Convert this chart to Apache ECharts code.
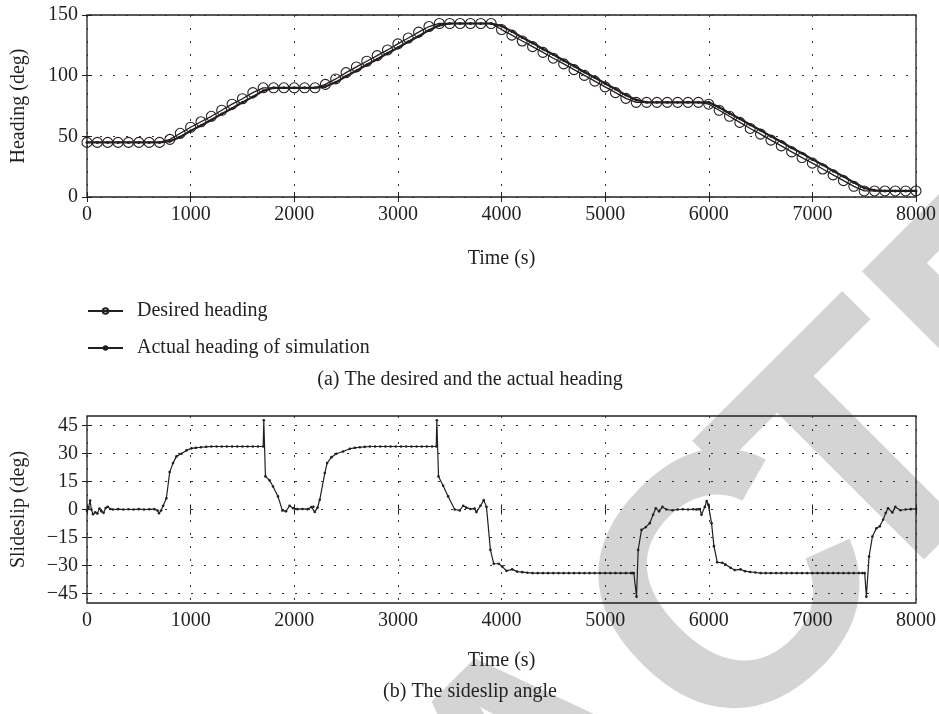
<!DOCTYPE html>
<html>
<head>
<meta charset="utf-8">
<script src="https://cdn.jsdelivr.net/npm/echarts@6/dist/echarts.min.js"></script>
<style>html,body{margin:0;padding:0;background:#fff}#chart{width:939px;height:714px}</style>
</head>
<body>
<div id="chart"></div>
<script>
// ---------- data ----------
var headingTime = [0,100,200,300,400,500,600,700,800,900,1000,1100,1200,1300,1400,1500,1600,1700,1800,1900,2000,2100,2200,2300,2400,2500,2600,2700,2800,2900,3000,3100,3200,3300,3400,3500,3600,3700,3800,3900,4000,4100,4200,4300,4400,4500,4600,4700,4800,4900,5000,5100,5200,5300,5400,5500,5600,5700,5800,5900,6000,6100,6200,6300,6400,6500,6600,6700,6800,6900,7000,7100,7200,7300,7400,7500,7600,7700,7800,7900,8000];
var desiredHeading = [45,45,45,45,45,45,45,45,47.5,52.5,57.5,62,66.5,71.5,76.5,81,86,90,90,90,90,90,90,92.8,97.3,102.5,107.2,111.9,116.5,121.2,126.2,131,135.9,140.5,143,143,143,143,143,143,138,133.4,128.6,123.9,119.2,114.4,109.7,105,100.2,95.5,90.8,86,81.3,78,78,78,78,78,78,78,76.5,71.5,66.5,61.5,56.5,51.8,46.9,42.1,37.2,32.5,27.9,23.1,18.2,13.5,8.8,5,5,5,5,5,5];
var actualHeading = [45,45,45,45,45,45,45,45,46,49.5,54.5,59,63.5,68.5,73,78,82.5,87.5,90,90,90,90,90,91,94.5,99.5,104,109,113.5,118.5,123,128,132.5,137.5,141.5,143,143,143,143,143,141,136.5,131.5,127,122,117.5,112.5,108,103,98.5,93.5,89,84,80,78,78,78,78,78,78,78,74,69,64.5,59.5,55,50,45.5,40.5,36,31,26.5,21.5,17,12,7.5,5.5,5,5,5,5];

var slipTime = [0,15,30,42,58,80,100,120,140,160,180,200,225,250,300,350,400,450,500,550,600,650,680,695,715,735,766,798,830,863,911,959,1008,1050,1100,1150,1200,1250,1300,1350,1400,1450,1500,1550,1600,1650,1700,1706,1722,1763,1795,1843,1885,1920,1955,1990,2030,2080,2130,2166,2185,2198,2225,2246,2295,2317,2359,2407,2471,2536,2585,2632,2680,2730,2780,2830,2880,2930,2980,3030,3080,3130,3180,3230,3280,3330,3370,3376,3392,3437,3485,3549,3597,3630,3660,3700,3740,3758,3797,3829,3855,3893,3925,3974,4006,4048,4103,4151,4200,4250,4300,4350,4400,4450,4500,4550,4600,4650,4700,4750,4800,4850,4900,4950,5000,5050,5100,5150,5200,5250,5264,5277,5303,5319,5351,5393,5431,5463,5489,5521,5553,5592,5650,5700,5750,5800,5850,5880,5898,5914,5930,5962,5980,5995,6027,6050,6082,6130,6162,6211,6250,6307,6350,6400,6450,6500,6550,6600,6650,6700,6750,6800,6850,6900,6950,7000,7050,7100,7150,7200,7250,7300,7350,7400,7450,7483,7505,7521,7547,7579,7618,7650,7682,7708,7730,7772,7800,7850,7900,7950,8000];
var slipValue = [-0.7,1,4.8,0,-2.5,-1.5,-2.2,0.5,-1,-1.8,0.8,1.5,0.3,0,0.2,0,0.1,0,0.2,0,0.1,0.2,-0.5,-2,-0.5,2,6,20,24.8,28.4,29.8,31.6,32.7,33,33.3,33.5,33.7,33.7,33.7,33.7,33.7,33.7,33.7,33.7,33.7,33.7,33.7,47.7,17.7,15.5,12.3,7,-0.5,-1,2,0.7,0.2,0.3,0.2,1.3,1.5,-1.3,1,5.2,19.5,24.8,28,29.8,31,32.5,33,33.3,33.5,33.7,33.7,33.7,33.7,33.7,33.7,33.7,33.7,33.7,33.7,33.7,33.7,33.7,33.7,47.7,17.7,12.7,7,0,-0.5,2,1,0.3,0.5,-1.4,2,5,1.4,-21.6,-29,-29,-30.5,-32.8,-32,-33.2,-33.5,-33.8,-34,-34,-34,-34,-34,-34,-34,-34,-34,-34,-34,-34,-34,-34,-34,-34,-34,-34,-34,-34,-34,-34,-46.6,-21.6,-10.9,-9.4,-7.3,-2.8,0.7,-1,1.4,0,-0.4,0,0.1,0,0.1,0,0.1,0.3,-2.8,1.4,4.5,2.6,-7.3,-19.6,-28.2,-28.5,-29.4,-31.2,-32.4,-32,-33,-33.4,-33.7,-34,-34,-34,-34,-34,-34,-34,-34,-34,-34,-34,-34,-34,-34,-34,-34,-34,-34,-34,-34,-34,-34,-46.6,-25.2,-14.5,-10,-9,-5.5,-1.9,0.7,-1.6,1.4,-0.4,0,0.2,0.3,0.7];

var slipTicks = [-45,-30,-15,0,15,30,45];

// ---------- chart ----------
var SERIF = '"Liberation Serif","DejaVu Serif",serif';
var INK = '#231f20';
var DOT = [2, 11];

function zip(a, b) { return a.map(function (v, i) { return [v, b[i]]; }); }
function plain(v) { return v < 0 ? '\u2212' + (-v) : String(v); }

var chart = echarts.init(document.getElementById('chart'), null, {renderer: 'canvas'});

var labelStyle = {color: INK, fontFamily: SERIF, fontSize: 20};
var tick = {show: true, inside: true, length: 5, lineStyle: {color: INK}};
var grid = {show: true, lineStyle: {type: DOT, color: '#333', width: 1}};
var WM_FONT = 'bold 360px "Liberation Sans"';

var option = {
  animation: false,
  backgroundColor: '#fff',
  grid: [
    {left: 87, top: 15, width: 829, height: 182, show: true, borderColor: INK, borderWidth: 1.3, backgroundColor: 'transparent'},
    {left: 87, top: 416, width: 829, height: 187, show: true, borderColor: INK, borderWidth: 1.3, backgroundColor: 'transparent'}
  ],
  xAxis: [
    {type: 'value', gridIndex: 0, min: 0, max: 8000, interval: 1000,
     axisLine: {show: false}, axisTick: tick,
     axisLabel: Object.assign({margin: 8, formatter: plain}, labelStyle),
     splitLine: grid,
     name: 'Time (s)', nameLocation: 'middle', nameGap: 52, nameTextStyle: labelStyle},
    {type: 'value', gridIndex: 0, position: 'top', min: 0, max: 8000, interval: 1000,
     axisLine: {show: false}, axisTick: tick, axisLabel: {show: false}, splitLine: {show: false}},
    {type: 'value', gridIndex: 1, min: 0, max: 8000, interval: 1000,
     axisLine: {show: false}, axisTick: tick,
     axisLabel: Object.assign({margin: 8, formatter: plain}, labelStyle),
     splitLine: grid,
     name: 'Time (s)', nameLocation: 'middle', nameGap: 48, nameTextStyle: labelStyle},
    {type: 'value', gridIndex: 1, position: 'top', min: 0, max: 8000, interval: 1000,
     axisLine: {show: false}, axisTick: tick, axisLabel: {show: false}, splitLine: {show: false}}
  ],
  yAxis: [
    {type: 'value', gridIndex: 0, min: 0, max: 150, interval: 50,
     axisLine: {show: false}, axisTick: tick,
     axisLabel: Object.assign({margin: 9, formatter: plain}, labelStyle),
     splitLine: grid,
     name: 'Heading (deg)', nameLocation: 'middle', nameGap: 58, nameTextStyle: labelStyle},
    {type: 'value', gridIndex: 0, position: 'right', min: 0, max: 150, interval: 50,
     axisLine: {show: false}, axisTick: tick, axisLabel: {show: false}, splitLine: {show: false}},
    {type: 'value', gridIndex: 1, min: -50, max: 50,
     axisLine: {show: false},
     axisTick: Object.assign({customValues: slipTicks}, tick),
     axisLabel: Object.assign({margin: 9, customValues: slipTicks, formatter: plain}, labelStyle),
     splitLine: {show: false},
     name: 'Slideslip (deg)', nameLocation: 'middle', nameGap: 58, nameTextStyle: labelStyle},
    {type: 'value', gridIndex: 1, position: 'right', min: -50, max: 50,
     axisLine: {show: false},
     axisTick: Object.assign({customValues: slipTicks}, tick),
     axisLabel: {show: false}, splitLine: {show: false}}
  ],
  legend: {
    orient: 'vertical', left: 87, top: 301, padding: 0, itemWidth: 35, itemHeight: 7, itemGap: 17,
    textStyle: {color: INK, fontFamily: SERIF, fontSize: 20, padding: [0, 0, 0, 9]},
    data: ['Desired heading', 'Actual heading of simulation']
  },
  series: [
    {name: 'Desired heading', type: 'line', xAxisIndex: 0, yAxisIndex: 0,
     data: zip(headingTime, desiredHeading), symbol: 'circle', symbolSize: 10, showSymbol: true,
     lineStyle: {color: INK, width: 1.3}, itemStyle: {color: 'rgba(255,255,255,0)', borderColor: INK, borderWidth: 1.1},
     z: 3},
    {name: 'Actual heading of simulation', type: 'line', xAxisIndex: 0, yAxisIndex: 0,
     data: zip(headingTime, actualHeading), symbol: 'circle', symbolSize: 3, showSymbol: true,
     lineStyle: {color: INK, width: 2.2}, itemStyle: {color: INK}, z: 4},
    {name: 'Sideslip', type: 'line', xAxisIndex: 2, yAxisIndex: 2,
     data: zip(slipTime, slipValue), symbol: 'circle', symbolSize: 2.6, showSymbol: true,
     lineStyle: {color: INK, width: 1.2}, itemStyle: {color: INK}, z: 4,
     markLine: {silent: true, symbol: 'none', label: {show: false}, animation: false,
       lineStyle: {type: DOT, color: '#333', width: 1},
       data: slipTicks.map(function (v) { return {yAxis: v}; })}}
  ],
  graphic: [
    {type: 'text', z: -10, x: 742, y: 601, rotation: Math.PI / 4, silent: true,
     style: {text: 'RETRAC', x: -1370, y: 0, fill: '#d4d4d4', font: WM_FONT,
             textAlign: 'left', textVerticalAlign: 'middle', align: 'left', verticalAlign: 'middle'}},
    {type: 'text', z: -10, x: 742, y: 601, rotation: Math.PI / 4, silent: true,
     style: {text: 'TED', x: 74, y: 0, fill: '#d4d4d4', font: WM_FONT,
             textAlign: 'left', textVerticalAlign: 'middle', align: 'left', verticalAlign: 'middle'}},
    {type: 'text', x: 470, y: 380,
     style: {text: '(a) The desired and the actual heading', fill: INK, font: '20px ' + SERIF,
             textAlign: 'center', textVerticalAlign: 'middle', align: 'center', verticalAlign: 'middle'}},
    {type: 'text', x: 470, y: 692,
     style: {text: '(b) The sideslip angle', fill: INK, font: '20px ' + SERIF,
             textAlign: 'center', textVerticalAlign: 'middle', align: 'center', verticalAlign: 'middle'}}
  ]
};
chart.setOption(option);
</script>
</body>
</html>
